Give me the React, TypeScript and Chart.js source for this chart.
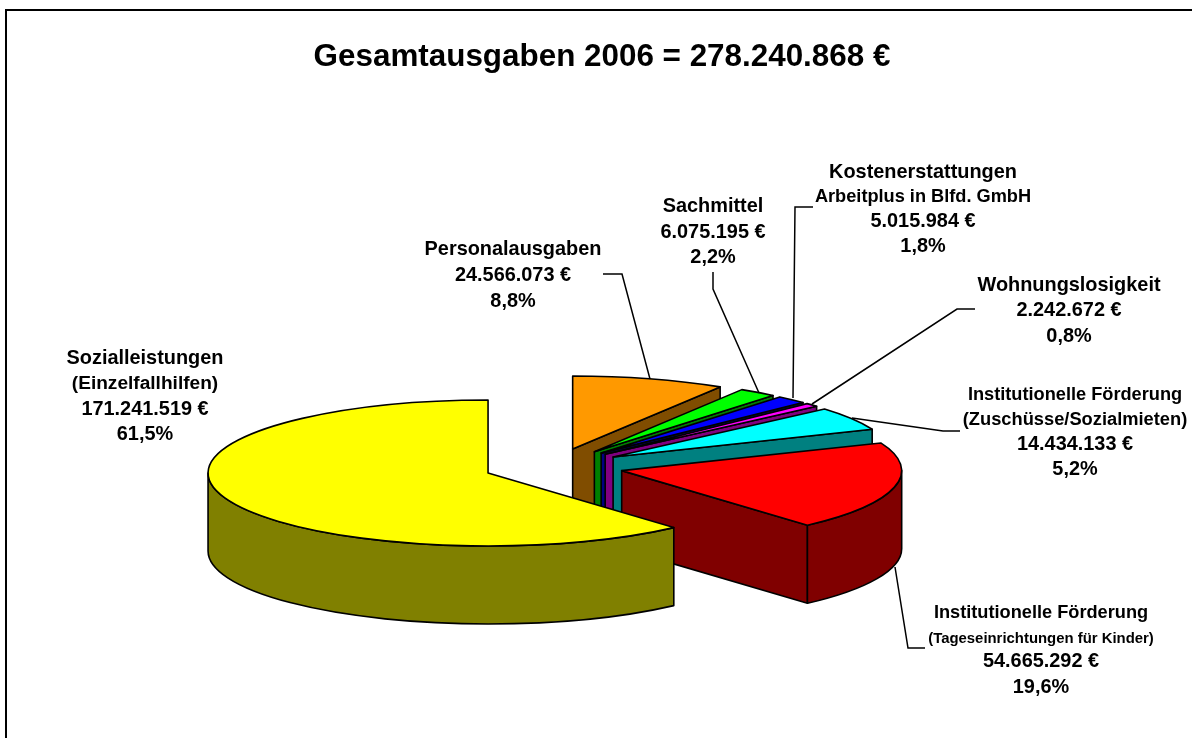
import React, { useEffect, useRef } from "react";
import { Chart, registerables } from "chart.js";

Chart.register(...registerables);

const categories = [
  "Personalausgaben",
  "Sachmittel",
  "Kostenerstattungen",
  "Wohnungslosigkeit",
  "Institutionelle Förderung (Zuschüsse/Sozialmieten)",
  "Institutionelle Förderung (Tageseinrichtungen für Kinder)",
  "Sozialleistungen (Einzelfallhilfen)",
];
const amounts = [24566073, 6075195, 5015984, 2242672, 14434133, 54665292, 171241519];
const topColors = ["#FF9900", "#00FF00", "#0000FF", "#FF00FF", "#00FFFF", "#FF0000", "#FFFF00"];
const sideColors = ["#804D00", "#008000", "#000080", "#800080", "#008080", "#800000", "#808000"];
const titleText = "Gesamtausgaben 2006 = 278.240.868 €";

type Line = { t: string; y: number; s: number };
const labelBlocks: { x: number; lines: Line[] }[] = [
  { x: 513, lines: [{ t: "Personalausgaben", y: 248, s: 19.9 }, { t: "24.566.073 €", y: 274, s: 19.9 }, { t: "8,8%", y: 300, s: 19.9 }] },
  { x: 713, lines: [{ t: "Sachmittel", y: 205, s: 19.9 }, { t: "6.075.195 €", y: 231, s: 19.9 }, { t: "2,2%", y: 256, s: 19.9 }] },
  { x: 923, lines: [{ t: "Kostenerstattungen", y: 171, s: 19.9 }, { t: "Arbeitplus in Blfd. GmbH", y: 195, s: 18.2 }, { t: "5.015.984 €", y: 220, s: 19.9 }, { t: "1,8%", y: 245, s: 19.9 }] },
  { x: 1069, lines: [{ t: "Wohnungslosigkeit", y: 284, s: 19.9 }, { t: "2.242.672 €", y: 309, s: 19.9 }, { t: "0,8%", y: 335, s: 19.9 }] },
  { x: 1075, lines: [{ t: "Institutionelle Förderung", y: 393, s: 18.2 }, { t: "(Zuschüsse/Sozialmieten)", y: 418, s: 18.3 }, { t: "14.434.133 €", y: 443, s: 19.9 }, { t: "5,2%", y: 468, s: 19.9 }] },
  { x: 1041, lines: [{ t: "Institutionelle Förderung", y: 611, s: 18.2 }, { t: "(Tageseinrichtungen für Kinder)", y: 637, s: 14.9 }, { t: "54.665.292 €", y: 660, s: 19.9 }, { t: "19,6%", y: 686, s: 19.9 }] },
  { x: 145, lines: [{ t: "Sozialleistungen", y: 357, s: 19.9 }, { t: "(Einzelfallhilfen)", y: 382, s: 19.1 }, { t: "171.241.519 €", y: 408, s: 19.9 }, { t: "61,5%", y: 433, s: 19.9 }] },
];
const leaders: number[][][] = [
  [[603, 274], [622, 274], [650, 379]],
  [[713, 272], [713, 289], [759, 393]],
  [[813, 207], [795, 207], [793, 398]],
  [[975, 309], [957, 309], [812, 404]],
  [[960, 431], [943, 431], [852, 418]],
  [[925, 648], [908, 648], [895, 567]],
];

const PIE_RADIUS = 280;
const EXPLODE = 70;
const TILT = 73 / 280;
const DEPTH = 78;
const PIE_CY = 466.5;
const PIE_SHIFT_X = 553.5 - 602;
const TEXT_NUDGE_Y = 1.5;

const pie3d = {
  id: "pie3d",
  beforeDatasetDraw(chart: any) {
    const ctx: CanvasRenderingContext2D = chart.ctx;
    const arcs = chart.getDatasetMeta(0).data;
    ctx.save();
    ctx.lineWidth = 1.6;
    ctx.strokeStyle = "#000";
    ctx.lineJoin = "round";
    arcs.forEach((arc: any, i: number) => {
      const s = arc.startAngle;
      const e = arc.endAngle;
      const mid = (s + e) / 2;
      const rx = arc.outerRadius;
      const ry = rx * TILT;
      const off = arc.options.offset;
      const cx = arc.x + PIE_SHIFT_X + Math.cos(mid) * off;
      const cy = PIE_CY + Math.sin(mid) * off * TILT;
      const paint = (fill: string) => {
        ctx.fillStyle = fill;
        ctx.fill();
        ctx.stroke();
      };
      // end face
      if (Math.cos(e) > 1e-6) {
        const px = cx + rx * Math.cos(e);
        const py = cy + ry * Math.sin(e);
        ctx.beginPath();
        ctx.moveTo(cx, cy);
        ctx.lineTo(px, py);
        ctx.lineTo(px, py + DEPTH);
        ctx.lineTo(cx, cy + DEPTH);
        ctx.closePath();
        paint(sideColors[i]);
      }
      // outer wall
      const lo = Math.max(s, 0);
      const hi = Math.min(e, Math.PI);
      if (hi > lo) {
        ctx.beginPath();
        ctx.ellipse(cx, cy, rx, ry, 0, lo, hi);
        ctx.ellipse(cx, cy + DEPTH, rx, ry, 0, hi, lo, true);
        ctx.closePath();
        paint(sideColors[i]);
      }
      // top face
      ctx.beginPath();
      ctx.moveTo(cx, cy);
      ctx.ellipse(cx, cy, rx, ry, 0, s, e);
      ctx.closePath();
      paint(arc.options.backgroundColor);
    });
    ctx.restore();
    return false;
  },
  afterDatasetsDraw(chart: any) {
    const ctx: CanvasRenderingContext2D = chart.ctx;
    ctx.save();
    ctx.strokeStyle = "#000";
    ctx.lineWidth = 1.5;
    leaders.forEach((pts) => {
      ctx.beginPath();
      pts.forEach((p, i) => (i ? ctx.lineTo(p[0], p[1]) : ctx.moveTo(p[0], p[1])));
      ctx.stroke();
    });
    ctx.fillStyle = "#000";
    ctx.textAlign = "center";
    ctx.textBaseline = "middle";
    labelBlocks.forEach((b) => {
      b.lines.forEach((l) => {
        ctx.font = `bold ${l.s}px "Liberation Sans"`;
        ctx.fillText(l.t, b.x, l.y + TEXT_NUDGE_Y);
      });
    });
    // chart frame
    ctx.lineWidth = 2;
    ctx.beginPath();
    ctx.moveTo(6, 738);
    ctx.lineTo(6, 10);
    ctx.lineTo(1192, 10);
    ctx.stroke();
    ctx.restore();
  },
};

export default function App() {
  const ref = useRef<HTMLCanvasElement>(null);
  useEffect(() => {
    document.body.style.margin = "0";
    document.body.style.background = "#fff";
    const chart = new Chart(ref.current!, {
      type: "pie",
      data: {
        labels: categories,
        datasets: [
          {
            data: amounts,
            backgroundColor: topColors,
            offset: EXPLODE,
            radius: PIE_RADIUS,
          } as any,
        ],
      },
      options: {
        responsive: false,
        animation: false,
        layout: { padding: { left: 12 } },
        plugins: {
          legend: { display: false },
          tooltip: { enabled: false },
          title: {
            display: true,
            text: titleText,
            color: "#000",
            font: { family: '"Liberation Sans"', size: 31.4, weight: "bold" },
            padding: { top: 38.5, bottom: 10 },
          },
        },
      },
      plugins: [pie3d],
    } as any);
    return () => chart.destroy();
  }, []);
  return (
    <div style={{ position: "absolute", left: 0, top: 0, width: 1192, height: 738 }}>
      <canvas ref={ref} width={1192} height={738} style={{ display: "block" }} />
    </div>
  );
}
